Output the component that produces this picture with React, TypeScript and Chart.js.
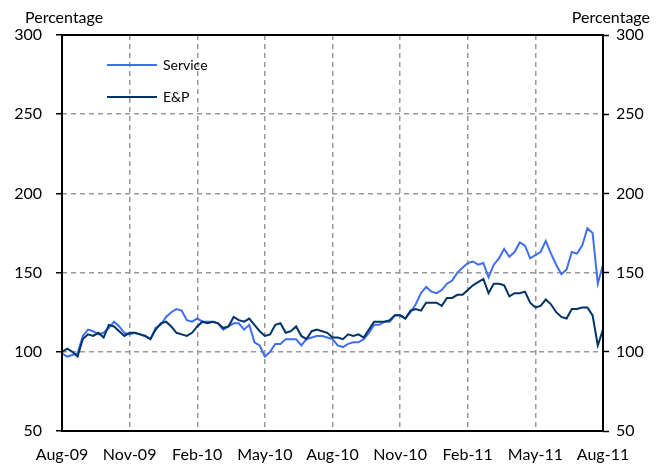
import React, { useEffect, useRef } from "react";
import { Chart, registerables } from "chart.js";

Chart.register(...registerables);

const quarterLabels = ["Aug-09", "Nov-09", "Feb-10", "May-10", "Aug-10", "Nov-10", "Feb-11", "May-11", "Aug-11"];
const weeksPerQuarter = 13;
const yMin = 50;
const yMax = 300;
const yStep = 50;

// weekly readings, index 0 = Aug-09, index 104 = Aug-11
const serviceValues = [
  99, 97, 98, 99, 110, 114, 113, 111, 112, 115, 119, 116, 112,
  111, 112, 111, 110, 108, 115, 117, 122, 125, 127, 126, 120, 119,
  121, 119, 119, 119, 118, 114, 116, 118, 118, 114, 117, 106, 104,
  97, 100, 105, 105, 108, 108, 108, 104, 108, 109, 110, 110, 109,
  108, 104, 103, 105, 106, 106, 108, 112, 117, 117, 119, 119, 123,
  123, 121, 125, 130, 137, 141, 138, 137, 139, 143, 145, 150, 153,
  156, 157, 155, 156, 147, 155, 159, 165, 160, 163, 169, 167, 159,
  161, 163, 170, 162, 155, 149, 152, 163, 162, 167, 178, 175, 143,
  155,
];

const epValues = [
  100, 102, 100, 97, 108, 111, 110, 112, 109, 117, 116, 113, 110,
  112, 112, 111, 110, 108, 114, 118, 119, 116, 112, 111, 110, 112,
  116, 119, 118, 119, 118, 115, 116, 122, 120, 119, 121, 117, 113,
  110, 111, 117, 118, 112, 113, 116, 110, 108, 113, 114, 113, 112,
  109, 109, 108, 111, 110, 111, 109, 114, 119, 119, 119, 120, 123,
  123, 121, 126, 127, 126, 131, 131, 131, 129, 134, 134, 136, 136,
  139, 142, 144, 146, 137, 143, 143, 142, 135, 137, 137, 138, 131,
  128, 129, 133, 130, 125, 122, 121, 127, 127, 128, 128, 123, 104,
  114,
];

const seriesNames = ["Service", "E&P"];
const seriesColors = ["#3f6ff0", "#003366"];
const axisTitle = "Percentage";

const FONT = "Lato, 'Open Sans', sans-serif";

const decorPlugin = {
  id: "decor",
  afterDraw(chart: any) {
    const { ctx, chartArea } = chart;
    ctx.save();
    // frame
    ctx.strokeStyle = "#000";
    ctx.lineWidth = 2;
    ctx.setLineDash([]);
    ctx.strokeRect(chartArea.left, chartArea.top, chartArea.right - chartArea.left, chartArea.bottom - chartArea.top);
    // axis titles
    ctx.fillStyle = "#000";
    ctx.font = `16px ${FONT}`;
    ctx.textBaseline = "middle";
    ctx.textAlign = "left";
    ctx.fillText(axisTitle, 25, 18);
    ctx.textAlign = "right";
    ctx.fillText(axisTitle, 650, 18);
    // legend
    const rows = [65, 97];
    chart.data.datasets.forEach((ds: any, i: number) => {
      const y = rows[i];
      ctx.strokeStyle = ds.borderColor;
      ctx.lineWidth = 2;
      ctx.beginPath();
      ctx.moveTo(chartArea.left + 45, y);
      ctx.lineTo(chartArea.left + 95, y);
      ctx.stroke();
      ctx.fillStyle = "#000";
      ctx.font = `14px ${FONT}`;
      ctx.textAlign = "left";
      ctx.fillText(ds.label, chartArea.left + 101, y);
    });
    ctx.restore();
  },
};

export default function App() {
  const canvasRef = useRef<HTMLCanvasElement | null>(null);

  useEffect(() => {
    if (!canvasRef.current) return;
    const toPoints = (arr: number[]) => arr.map((v, i) => ({ x: i, y: v }));
    const chart = new Chart(canvasRef.current, {
      type: "line",
      data: {
        datasets: [
          {
            label: seriesNames[0],
            data: toPoints(serviceValues),
            borderColor: seriesColors[0],
            backgroundColor: seriesColors[0],
            borderWidth: 2,
            pointRadius: 0,
            tension: 0,
            order: 1,
          },
          {
            label: seriesNames[1],
            data: toPoints(epValues),
            borderColor: seriesColors[1],
            backgroundColor: seriesColors[1],
            borderWidth: 2,
            pointRadius: 0,
            tension: 0,
            order: 0,
          },
        ],
      },
      options: {
        animation: false,
        responsive: false,
        layout: { padding: { top: 35, left: 0, right: 0, bottom: 0 } },
        plugins: { legend: { display: false }, tooltip: { enabled: false } },
        scales: {
          x: {
            type: "linear",
            min: 0,
            max: (quarterLabels.length - 1) * weeksPerQuarter,
            afterFit(scale: any) {
              scale.height = 35;
            },
            afterBuildTicks(scale: any) {
              scale.ticks = quarterLabels.map((_, i) => ({ value: i * weeksPerQuarter }));
            },
            ticks: {
              autoSkip: false,
              maxRotation: 0,
              padding: 14,
              color: "#000",
              font: { family: FONT, size: 16 },
              callback: (v: any) => quarterLabels[Math.round(Number(v) / weeksPerQuarter)] ?? "",
            },
            grid: { color: "#999", lineWidth: 1.5, drawTicks: false },
            border: { display: false, dash: [5, 4] },
          },
          y: {
            position: "left",
            min: yMin,
            max: yMax,
            afterFit(scale: any) {
              scale.width = 62;
            },
            ticks: {
              stepSize: yStep,
              padding: 14,
              color: "#000",
              font: { family: FONT, size: 16 },
            },
            grid: { color: "#999", lineWidth: 1.5, drawTicks: true, tickLength: 6, tickColor: "#000", tickWidth: 1.5 },
            border: { display: false, dash: [5, 4] },
          },
          y2: {
            position: "right",
            min: yMin,
            max: yMax,
            afterFit(scale: any) {
              scale.width = 57;
            },
            ticks: {
              stepSize: yStep,
              padding: 7,
              color: "#000",
              font: { family: FONT, size: 16 },
            },
            grid: { drawOnChartArea: false, drawTicks: true, tickLength: 6, tickColor: "#000", tickWidth: 1.5 },
            border: { display: false },
          },
        },
      },
      plugins: [decorPlugin],
    } as any);
    return () => chart.destroy();
  }, []);

  return (
    <div style={{ position: "fixed", left: 0, top: 0, width: 660, height: 466, background: "#fff" }}>
      <canvas ref={canvasRef} width={660} height={466} style={{ display: "block" }} />
    </div>
  );
}
